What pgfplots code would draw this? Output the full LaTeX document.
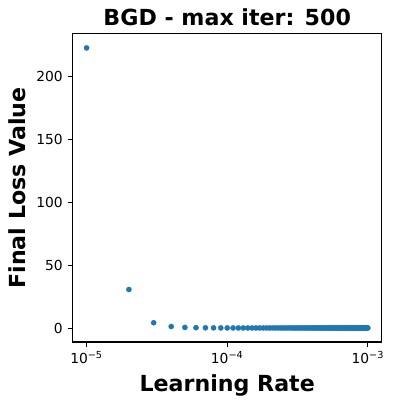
\documentclass[border=0pt]{standalone}
\usepackage{pgfplots}
\pgfplotsset{compat=1.18}
\usepackage{fontspec}
\setmainfont{DejaVu Sans}
\definecolor{tabblue}{HTML}{1F77B4}
\begin{document}
\begin{tikzpicture}
\path[use as bounding box] (0bp,0bp) rectangle (283.68bp,292.32bp);
\begin{axis}[
  at={(52.2bp,46.08bp)}, anchor=south west,
  scale only axis, width=222.8bp, height=221.8bp,
  xmode=log, log basis x=10,
  xmin=7.9433e-6, xmax=1.2589e-3,
  ymin=-10.7, ymax=234.1,
  xtick={1e-5,1e-4,1e-3},
  xticklabels={10\textsuperscript{−5},10\textsuperscript{−4},10\textsuperscript{−3}},
  ytick={0,50,100,150,200},
  yticklabels={0,50,100,150,200},
  /pgf/number format/assume math mode=true,
  tick align=outside, tick pos=left,
  major tick length=3.5pt, minor tick length=2pt,
  every tick/.style={black, line width=0.8pt},
  axis line style={line width=0.8pt},
  tick label style={font=\fontsize{10}{12}\selectfont},
  title={BGD - max iter: 500},
  title style={font=\fontsize{16}{19}\selectfont\bfseries, yshift=-4pt},
  xlabel={Learning Rate},
  ylabel={Final Loss Value},
  label style={font=\fontsize{16}{19}\selectfont\bfseries},
  xlabel style={yshift=-0.5pt},
  ylabel style={yshift=1pt},
]
\addplot[only marks, color=tabblue, mark=*, mark size=1.9pt, mark options={solid, draw=tabblue, fill=tabblue, line width=0.2pt}] coordinates {
(1e-5,223.0)(2e-5,31.0)(3e-5,4.6)(4e-5,1.6)(5e-5,0.9)(6e-5,0.7)(7e-5,0.6)(8e-5,0.55)(9e-5,0.5)(10e-5,0.48)
(11e-5,0.47)(12e-5,0.46)(13e-5,0.45)(14e-5,0.45)(15e-5,0.45)(16e-5,0.45)(17e-5,0.45)(18e-5,0.45)(19e-5,0.45)(20e-5,0.45)
(21e-5,0.45)(22e-5,0.45)(23e-5,0.45)(24e-5,0.45)(25e-5,0.45)(26e-5,0.45)(27e-5,0.45)(28e-5,0.45)(29e-5,0.45)(30e-5,0.45)
(31e-5,0.45)(32e-5,0.45)(33e-5,0.45)(34e-5,0.45)(35e-5,0.45)(36e-5,0.45)(37e-5,0.45)(38e-5,0.45)(39e-5,0.45)(40e-5,0.45)
(41e-5,0.45)(42e-5,0.45)(43e-5,0.45)(44e-5,0.45)(45e-5,0.45)(46e-5,0.45)(47e-5,0.45)(48e-5,0.45)(49e-5,0.45)(50e-5,0.45)
(51e-5,0.45)(52e-5,0.45)(53e-5,0.45)(54e-5,0.45)(55e-5,0.45)(56e-5,0.45)(57e-5,0.45)(58e-5,0.45)(59e-5,0.45)(60e-5,0.45)
(61e-5,0.45)(62e-5,0.45)(63e-5,0.45)(64e-5,0.45)(65e-5,0.45)(66e-5,0.45)(67e-5,0.45)(68e-5,0.45)(69e-5,0.45)(70e-5,0.45)
(71e-5,0.45)(72e-5,0.45)(73e-5,0.45)(74e-5,0.45)(75e-5,0.45)(76e-5,0.45)(77e-5,0.45)(78e-5,0.45)(79e-5,0.45)(80e-5,0.45)
(81e-5,0.45)(82e-5,0.45)(83e-5,0.45)(84e-5,0.45)(85e-5,0.45)(86e-5,0.45)(87e-5,0.45)(88e-5,0.45)(89e-5,0.45)(90e-5,0.45)
(91e-5,0.45)(92e-5,0.45)(93e-5,0.45)(94e-5,0.45)(95e-5,0.45)(96e-5,0.45)(97e-5,0.45)(98e-5,0.45)(99e-5,0.45)(100e-5,0.45)
};
\end{axis}
\end{tikzpicture}
\end{document}
